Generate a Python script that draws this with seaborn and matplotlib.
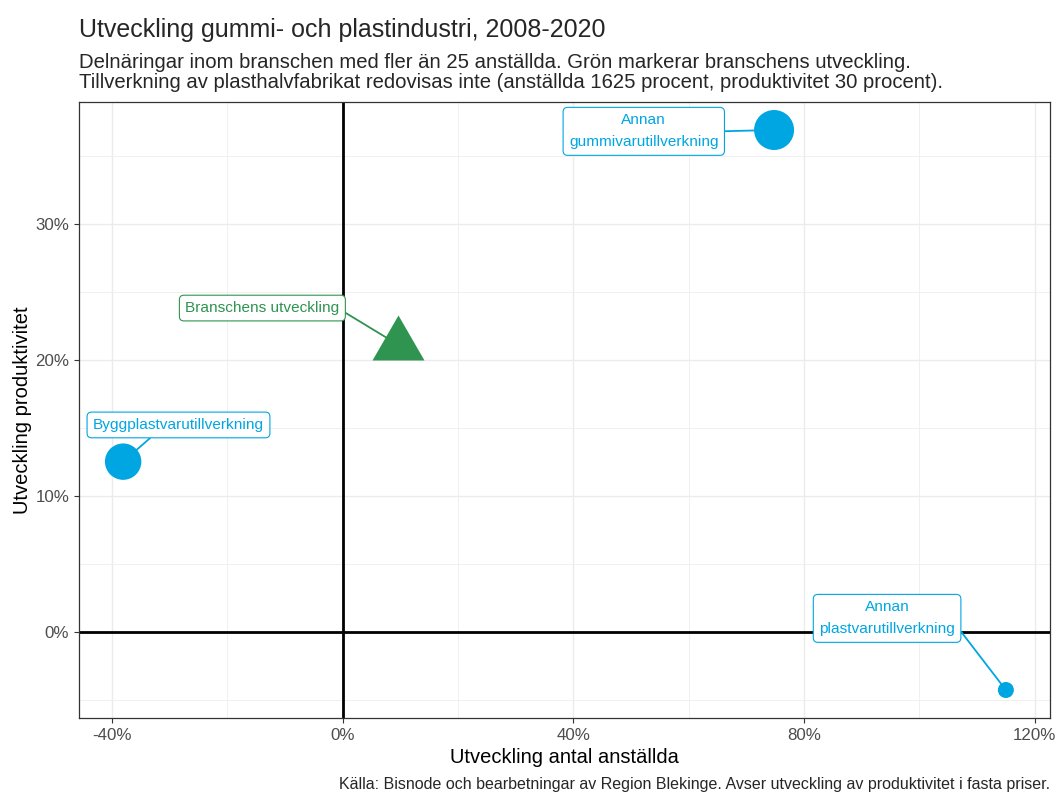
import numpy as np
import pandas as pd
import matplotlib
matplotlib.use("Agg")
import matplotlib.pyplot as plt
import seaborn as sns
from matplotlib.path import Path
from matplotlib.markers import MarkerStyle
from matplotlib.ticker import MultipleLocator, FuncFormatter

# ---- data (procentuell utveckling 2008-2020) ----
kategorier = ["Annan gummivarutillverkning", "Byggplastvarutillverkning",
              "Annan plastvarutillverkning", "Branschens utveckling"]
etiketter = ["Annan\ngummivarutillverkning", "Byggplastvarutillverkning",
             "Annan\nplastvarutillverkning", "Branschens utveckling"]
anstallda = [74.8, -38.1, 115.0, 9.6]
produktivitet = [36.9, 12.5, -4.3, 21.1]
grupp = ["delnäring", "delnäring", "delnäring", "bransch"]

df = pd.DataFrame({"kategori": kategorier, "etikett": etiketter,
                   "anstallda": anstallda, "produktivitet": produktivitet,
                   "grupp": grupp})

# ---- styles ----
BLUE = "#00A6E2"
GREEN = "#2E9450"
marker_area = {"Annan gummivarutillverkning": 829, "Byggplastvarutillverkning": 687,
               "Annan plastvarutillverkning": 133}
# label offsets (data units) and segment start relative to label box
label_style = {
    "Annan gummivarutillverkning": dict(dx=-22.6, dy=-0.1, relpos=(1.0, 0.5)),
    "Byggplastvarutillverkning": dict(dx=9.6, dy=2.7, relpos=(0.375, 0.0)),
    "Annan plastvarutillverkning": dict(dx=-20.6, dy=5.27, relpos=(1.0, 0.35)),
    "Branschens utveckling": dict(dx=-23.55, dy=2.7, relpos=(1.0, 0.42)),
}

sns.set_style("white")
plt.rcParams["font.family"] = ["Liberation Sans", "DejaVu Sans"]

fig = plt.figure(figsize=(10.57, 7.95), dpi=100)
ax = fig.add_axes([79 / 1057, 1 - 718 / 795, (1050 - 79) / 1057, (718 - 102) / 795])

delnar = df[df.grupp == "delnäring"]
bransch = df[df.grupp == "bransch"]

sns.scatterplot(data=delnar, x="anstallda", y="produktivitet", size="kategori",
                sizes=marker_area, color=BLUE, linewidth=0, legend=False,
                ax=ax, zorder=4)
tri = Path([(0, 1), (-0.866, -0.5), (0.866, -0.5), (0, 1)],
           [Path.MOVETO, Path.LINETO, Path.LINETO, Path.CLOSEPOLY])
sns.scatterplot(data=bransch, x="anstallda", y="produktivitet",
                marker=MarkerStyle(tri), s=1868, color=GREEN, linewidth=0,
                legend=False, ax=ax, zorder=4)

# axis limits: ggplot-like 5% expansion
xr = max(anstallda) - min(anstallda)
yr = max(produktivitet) - min(produktivitet)
ax.set_xlim(min(anstallda) - 0.05 * xr, max(anstallda) + 0.05 * xr)
ax.set_ylim(min(produktivitet) - 0.05 * yr, max(produktivitet) + 0.05 * yr)

ax.axhline(0, color="black", lw=2.0, zorder=2)
ax.axvline(0, color="black", lw=2.0, zorder=2)

for _, r in df.iterrows():
    st = label_style[r.kategori]
    col = GREEN if r.grupp == "bransch" else BLUE
    ax.annotate(r.etikett, xy=(r.anstallda, r.produktivitet),
                xytext=(r.anstallda + st["dx"], r.produktivitet + st["dy"]),
                ha="center", va="center", fontsize=11.1, color=col,
                multialignment="center", linespacing=1.75,
                bbox=dict(boxstyle="round,pad=0.38,rounding_size=0.3",
                          fc="white", ec=col, lw=0.8),
                arrowprops=dict(arrowstyle="-", color=col, lw=1.3,
                                relpos=st["relpos"], shrinkA=0, shrinkB=0),
                zorder=3)

# grid & ticks
ax.xaxis.set_major_locator(MultipleLocator(40))
ax.xaxis.set_minor_locator(MultipleLocator(20))
ax.yaxis.set_major_locator(MultipleLocator(10))
ax.yaxis.set_minor_locator(MultipleLocator(5))
fmt = FuncFormatter(lambda v, p: f"{v:.0f}%")
ax.xaxis.set_major_formatter(fmt)
ax.yaxis.set_major_formatter(fmt)
ax.grid(which="major", color="#EBEBEB", lw=1.0, zorder=0)
ax.grid(which="minor", color="#F0F0F0", lw=0.7, zorder=0)
ax.set_axisbelow(True)
ax.tick_params(which="major", length=3.5, width=0.8, color="#333333",
               labelsize=12.2, labelcolor="#4D4D4D", pad=3.5, bottom=True, left=True)
ax.tick_params(which="minor", length=0)
for s in ax.spines.values():
    s.set_color("#333333")
    s.set_linewidth(0.9)

ax.set_xlabel("Utveckling antal anställda", fontsize=14.5, color="black", labelpad=4)
ax.set_ylabel("Utveckling produktivitet", fontsize=14.5, color="black", labelpad=2.5)

fig.text(79 / 1057, 1 - 36.5 / 795, "Utveckling gummi- och plastindustri, 2008-2020",
         fontsize=18, ha="left", va="baseline")
fig.text(79 / 1057, 1 - 68 / 795,
         "Delnäringar inom branschen med fler än 25 anställda. Grön markerar branschens utveckling.",
         fontsize=14.6, ha="left", va="baseline")
fig.text(79 / 1057, 1 - 87.5 / 795,
         "Tillverkning av plasthalvfabrikat redovisas inte (anställda 1625 procent, produktivitet 30 procent).",
         fontsize=14.6, ha="left", va="baseline")
fig.text(1050 / 1057, 1 - 789 / 795,
         "Källa: Bisnode och bearbetningar av Region Blekinge. Avser utveckling av produktivitet i fasta priser.",
         fontsize=11.5, ha="right", va="baseline")

fig.savefig("out.png", dpi=100)
